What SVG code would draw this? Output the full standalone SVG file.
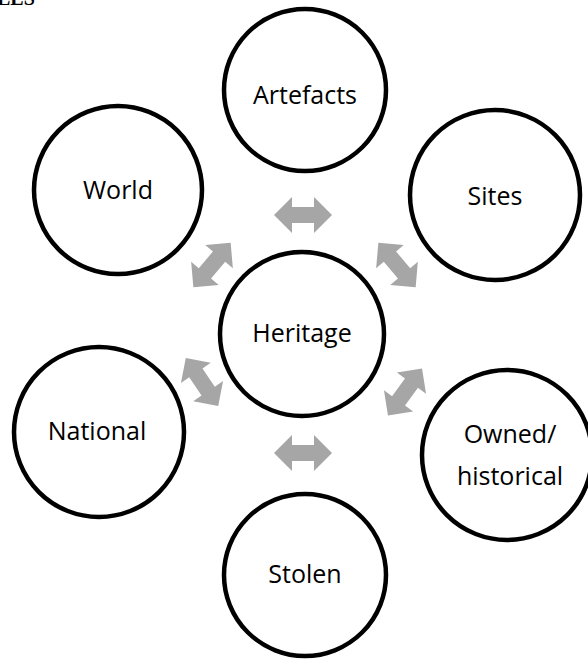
<svg xmlns="http://www.w3.org/2000/svg" xmlns:xlink="http://www.w3.org/1999/xlink" width="588" height="662" viewBox="0 0 588 662">
<style>
.node{fill:#fff;stroke:#000;stroke-width:4.5}
.lbl{font-family:"Open Sans","Noto Sans",sans-serif;font-size:25px;fill:#000;text-anchor:middle}
.arr{fill:#A6A6A6}
.hdr{font-family:"Liberation Serif",serif;font-weight:bold;font-size:20px;fill:#000}
</style>
<defs>
<path id="dbl" d="M-29,0 L-11,-18 L-11,-8 L11,-8 L11,-18 L29,0 L11,18 L11,8 L-11,8 L-11,18 Z"/>
</defs>
<rect width="588" height="662" fill="#fff"/>
<text class="hdr" x="-3" y="5">LES</text>
<g id="connectors" class="arr">
<use xlink:href="#dbl" transform="translate(303,215)"/>
<use xlink:href="#dbl" transform="translate(303,453)"/>
<use xlink:href="#dbl" transform="translate(212,265) rotate(-50)"/>
<use xlink:href="#dbl" transform="translate(397,265) rotate(50)"/>
<use xlink:href="#dbl" transform="translate(202,382) rotate(56)"/>
<use xlink:href="#dbl" transform="translate(405,392) rotate(-54)"/>
</g>
<g id="node-artefacts"><circle class="node" cx="305" cy="90" r="81"/><text class="lbl" x="305" y="104">Artefacts</text></g>
<g id="node-world"><circle class="node" cx="118" cy="190" r="84"/><text class="lbl" x="118" y="199">World</text></g>
<g id="node-sites"><circle class="node" cx="495" cy="195" r="85"/><text class="lbl" x="495" y="205">Sites</text></g>
<g id="node-heritage"><circle class="node" cx="302" cy="334" r="82"/><text class="lbl" x="302" y="342">Heritage</text></g>
<g id="node-national"><circle class="node" cx="99" cy="432" r="85"/><text class="lbl" x="97" y="440">National</text></g>
<g id="node-owned"><circle class="node" cx="507" cy="455" r="85"/><text class="lbl" x="510" y="443">Owned/</text><text class="lbl" x="510" y="485">historical</text></g>
<g id="node-stolen"><circle class="node" cx="305" cy="575" r="81"/><text class="lbl" x="305" y="583">Stolen</text></g>
</svg>
